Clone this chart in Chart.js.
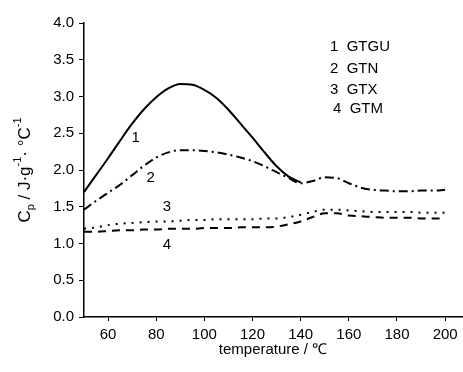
<!DOCTYPE html>
<html>
<head>
<meta charset="utf-8">
<script src="https://cdn.jsdelivr.net/npm/chart.js@4/dist/chart.umd.min.js"></script>
<style>
  body { margin: 0; background: #fff; }
  canvas { display: block; }
</style>
</head>
<body>
<canvas id="cpChart" width="463" height="372"></canvas>
<script>
// temperatura em °C, passo de 5
const temperature = [50, 55, 60, 65, 70, 75, 80, 85, 90, 95, 100, 105, 110, 115, 120, 125, 130, 135, 140,
                     145, 150, 155, 160, 165, 170, 175, 180, 185, 190, 195, 200];
const gtgu = [1.70, 1.93, 2.16, 2.40, 2.63, 2.83, 2.99, 3.11, 3.17, 3.16, 3.09, 2.98, 2.82, 2.63, 2.44, 2.24, 2.05, 1.91, 1.83,
              null, null, null, null, null, null, null, null, null, null, null, null];
const gtn = [1.46, 1.58, 1.69, 1.80, 1.93, 2.06, 2.17, 2.24, 2.27, 2.27, 2.26, 2.24, 2.21, 2.17, 2.12, 2.05, 1.97, 1.89, 1.82,
             1.85, 1.90, 1.89, 1.82, 1.76, 1.73, 1.72, 1.71, 1.71, 1.72, 1.72, 1.73];
const gtx = [1.20, 1.22, 1.25, 1.27, 1.28, 1.29, 1.30, 1.30, 1.31, 1.32, 1.32, 1.33, 1.33, 1.33, 1.33, 1.34, 1.34, 1.36, 1.39,
             1.43, 1.46, 1.46, 1.45, 1.44, 1.43, 1.43, 1.43, 1.43, 1.42, 1.42, 1.42];
const gtm = [1.16, 1.16, 1.17, 1.18, 1.18, 1.19, 1.19, 1.20, 1.20, 1.20, 1.21, 1.21, 1.21, 1.22, 1.22, 1.22, 1.23, 1.26, 1.30,
             1.36, 1.41, 1.41, 1.38, 1.37, 1.36, 1.35, 1.35, 1.35, 1.34, 1.34, 1.34];

const xTicks = [60, 80, 100, 120, 140, 160, 180, 200];
const yTicks = [0, 0.5, 1, 1.5, 2, 2.5, 3, 3.5, 4];
const legendLines = ['1  GTGU', '2  GTN', '3  GTX', '4  GTM'];
const curveNumbers = ['1', '2', '3', '4'];

const FONT = "'Liberation Sans', Arial, sans-serif";
const FS = 15;

function pts(values) {
    return temperature.map((t, i) => ({ x: t, y: values[i] }));
}

// textos desenhados à mão: legenda, números das curvas e título do eixo y
const textPlugin = {
    id: 'textPlugin',
    afterDraw(chart) {
        const ctx = chart.ctx;
        const xs = chart.scales.x, ys = chart.scales.y;
        ctx.save();
        ctx.fillStyle = '#000';
        ctx.font = FS + 'px ' + FONT;
        ctx.textBaseline = 'middle';
        ctx.textAlign = 'left';

        const legendY = [47, 69, 90, 109];
        const legendX = [330, 330, 330, 333];
        legendLines.forEach((s, i) => ctx.fillText(s, legendX[i], legendY[i]));

        const anchors = [[71.5, 2.44], [77.7, 1.89], [84.4, 1.50], [84.4, 0.98]];
        ctx.textAlign = 'center';
        curveNumbers.forEach((s, i) => {
            ctx.fillText(s, xs.getPixelForValue(anchors[i][0]), ys.getPixelForValue(anchors[i][1]));
        });

        // C_p / J·g^-1· °C^-1
        ctx.translate(25, (chart.chartArea.top + chart.chartArea.bottom) / 2);
        ctx.rotate(-Math.PI / 2);
        const big = '17px ' + FONT, small = '11px ' + FONT;
        const parts = [
            ['C', big, 0], ['p', small, 6], [' / J\u00b7g', big, 0], ['-1', small, -7],
            ['\u00b7 \u00b0C', big, 0], ['-1', small, -7]
        ];
        let w = 0;
        parts.forEach(p => { ctx.font = p[1]; w += ctx.measureText(p[0]).width; });
        let x = -w / 2;
        ctx.textAlign = 'left';
        parts.forEach(p => {
            ctx.font = p[1];
            ctx.fillText(p[0], x, p[2]);
            x += ctx.measureText(p[0]).width;
        });
        ctx.restore();
    }
};

const ctx = document.getElementById('cpChart').getContext('2d');
const chart = new Chart(ctx, {
    type: 'line',
    data: {
        datasets: [
            { label: 'GTGU', data: pts(gtgu), borderDash: [] },
            { label: 'GTN', data: pts(gtn), borderDash: [9, 4, 2, 4] },
            { label: 'GTX', data: pts(gtx), borderDash: [2, 6] },
            { label: 'GTM', data: pts(gtm), borderDash: [8, 6] }
        ].map(d => Object.assign(d, {
            borderColor: '#000',
            borderWidth: 2,
            pointRadius: 0,
            fill: false,
            cubicInterpolationMode: 'monotone',
            spanGaps: false
        }))
    },
    options: {
        responsive: false,
        animation: false,
        layout: { padding: { top: 23, right: 1, bottom: 0, left: 0 } },
        plugins: {
            legend: { display: false },
            tooltip: { enabled: false }
        },
        scales: {
            x: {
                type: 'linear',
                min: 50,
                max: 207,
                afterBuildTicks: s => { s.ticks = xTicks.map(v => ({ value: v })); },
                afterFit: s => { s.height = 55; },
                grid: { drawOnChartArea: false, drawTicks: true, tickLength: 4, color: '#000' },
                border: { display: true, color: '#000', width: 1.5 },
                ticks: { color: '#000', padding: 5, maxRotation: 0, font: { family: FONT, size: FS } },
                title: {
                    display: true,
                    text: 'temperature / \u2103',
                    color: '#000',
                    font: { family: FONT, size: FS },
                    padding: { top: 0, bottom: 13 }
                }
            },
            y: {
                min: 0,
                max: 4,
                afterBuildTicks: s => { s.ticks = yTicks.map(v => ({ value: v })); },
                afterFit: s => { s.width = 84; },
                grid: { drawOnChartArea: false, drawTicks: true, tickLength: 5, color: '#000' },
                border: { display: true, color: '#000', width: 1.5 },
                ticks: {
                    color: '#000',
                    padding: 5,
                    font: { family: FONT, size: FS },
                    callback: v => v.toFixed(1)
                }
            }
        }
    },
    plugins: [textPlugin]
});
</script>
</body>
</html>
